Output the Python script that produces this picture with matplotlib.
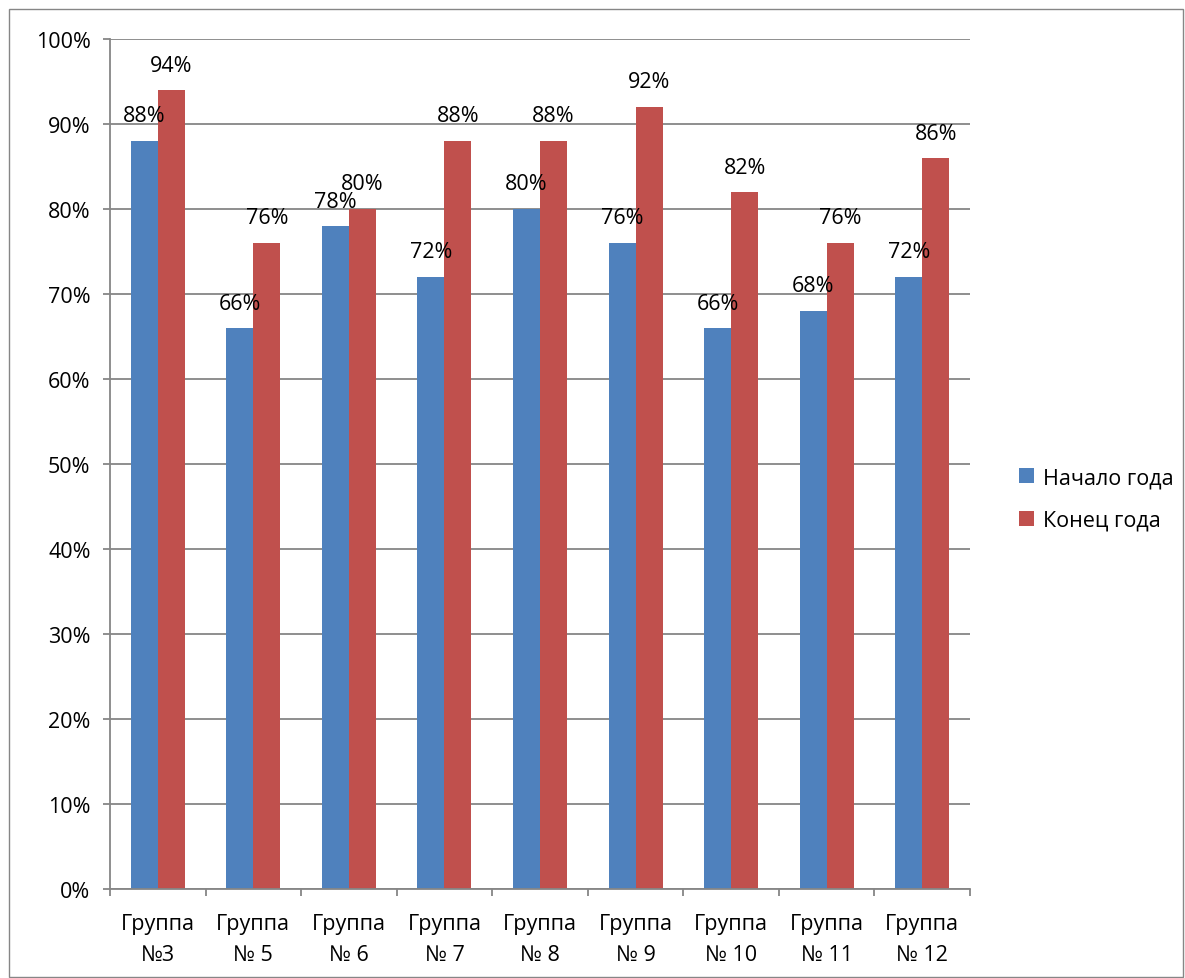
import matplotlib.pyplot as plt
import numpy as np
from matplotlib.patches import Rectangle

plt.rcParams["font.family"] = ["Open Sans", "DejaVu Sans"]

groups = ["Группа\n№3", "Группа\n№ 5", "Группа\n№ 6", "Группа\n№ 7", "Группа\n№ 8",
          "Группа\n№ 9", "Группа\n№ 10", "Группа\n№ 11", "Группа\n№ 12"]
start_year = [88, 66, 78, 72, 80, 76, 66, 68, 72]
end_year = [94, 76, 80, 88, 88, 92, 82, 76, 86]
series_names = ["Начало года", "Конец года"]
colors = ["#4F81BD", "#C0504D"]

W, H = 1185, 979
FS = 15.5
fig = plt.figure(figsize=(W / 100, H / 100), dpi=100)
fig.patches.append(Rectangle((9 / W, 1 - 978 / H), (1183 - 9) / W, (978 - 10) / H,
                             transform=fig.transFigure, fill=False,
                             edgecolor="#868686", linewidth=1.0))

ax = fig.add_axes([110 / W, 1 - 890 / H, (970 - 110) / W, (890 - 40) / H])

x = np.arange(len(groups))
bw = 0.283
for i, (vals, name, col) in enumerate(zip([start_year, end_year], series_names, colors)):
    pos = x + (i - 0.5) * bw
    ax.bar(pos, vals, width=bw, color=col, label=name, zorder=2)
    for px, v in zip(pos, vals):
        ax.annotate(f"{v}%", (px, v), xytext=(0, 18), textcoords="offset points",
                    ha="center", va="center", fontsize=FS, zorder=5)

ax.set_xlim(-0.5, len(groups) - 0.5)
ax.set_ylim(0, 100)
ax.set_yticks(range(0, 101, 10))
ax.set_yticklabels([f"{t}%" for t in range(0, 101, 10)], fontsize=FS)
ax.set_xticks(np.arange(-0.5, len(groups), 1.0))
ax.set_xticklabels([])
ax.set_xticks(x, minor=True)
ax.set_xticklabels(groups, minor=True, fontsize=FS, linespacing=1.65)
ax.tick_params(axis="x", which="minor", length=0, pad=17)
ax.tick_params(axis="x", which="major", length=5, color="#868686", width=1.3)
ax.tick_params(axis="y", length=5, color="#868686", width=1.3, pad=9)

ax.grid(True, axis="y", color="#868686", linewidth=1.3, zorder=0)
ax.set_axisbelow(True)
for s in ["top", "right"]:
    ax.spines[s].set_visible(False)
for s in ["left", "bottom"]:
    ax.spines[s].set_color("#868686")
    ax.spines[s].set_linewidth(1.3)

fig.legend(loc="center left", bbox_to_anchor=(1000 / W, 1 - 500 / H), frameon=False,
           fontsize=FS, handlelength=0.7, handleheight=0.7, handletextpad=0.4,
           labelspacing=1.0)

fig.savefig("out.png", dpi=100)
